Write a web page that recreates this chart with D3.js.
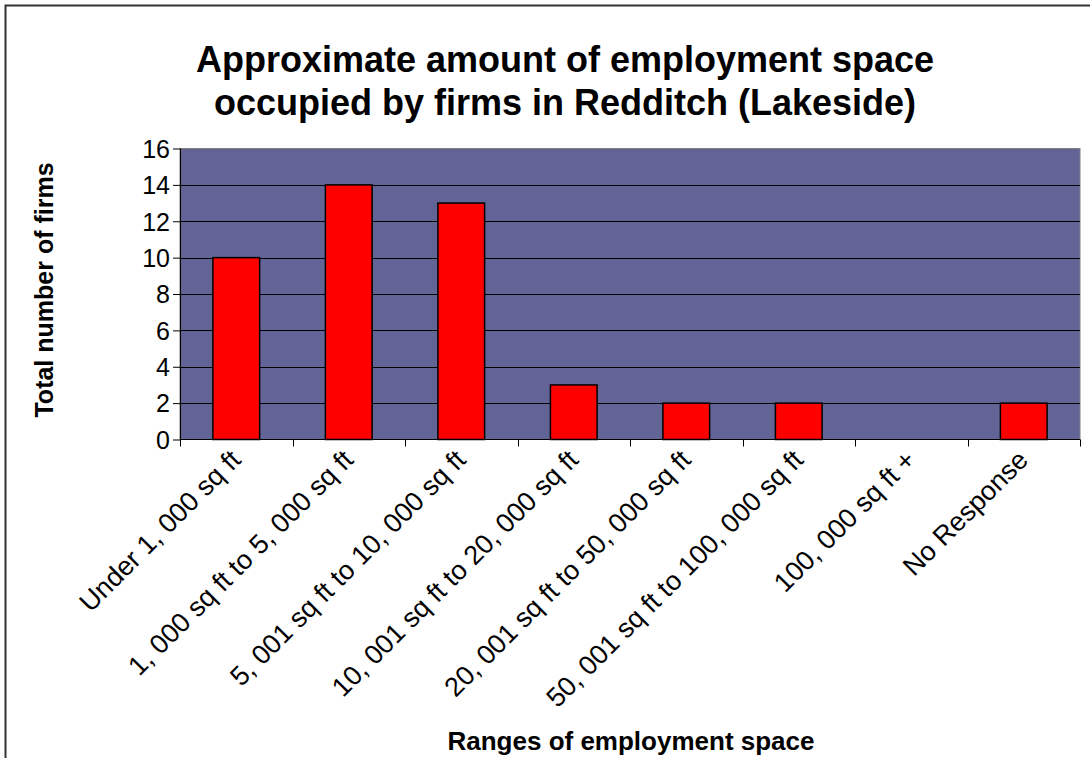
<!DOCTYPE html>
<html>
<head>
<meta charset="utf-8">
<script src="https://cdn.jsdelivr.net/npm/d3@7"></script>
<style>
  html, body { margin: 0; padding: 0; background: #fff; }
  svg { display: block; font-family: Arial, "Liberation Sans", sans-serif; }
</style>
</head>
<body>
<svg id="chart" width="1090" height="758"></svg>
<script>
const titleLines = ["Approximate amount of employment space", "occupied by firms in Redditch (Lakeside)"];
const categories = [
  "Under 1, 000 sq ft",
  "1, 000 sq ft to 5, 000 sq ft",
  "5, 001 sq ft to 10, 000 sq ft",
  "10, 001 sq ft to 20, 000 sq ft",
  "20, 001 sq ft to 50, 000 sq ft",
  "50, 001 sq ft to 100, 000 sq ft",
  "100, 000 sq ft +",
  "No Response"
];
const values = [10, 14, 13, 3, 2, 2, 0, 2];
const yTicks = [0, 2, 4, 6, 8, 10, 12, 14, 16];
const xTitle = "Ranges of employment space";
const yTitle = "Total number of firms";

const svg = d3.select("#chart");
const plot = { left: 180, top: 148.5, right: 1080, bottom: 439.5 };

// chart area border (extends past the viewport right/bottom)
svg.append("rect")
  .attr("x", 5.5).attr("y", 5.5).attr("width", 1200).attr("height", 900)
  .attr("fill", "#fff").attr("stroke", "#333").attr("stroke-width", 2);

const x = d3.scaleBand().domain(categories).range([plot.left, plot.right]).paddingInner(0.585).paddingOuter(0.2925);
const xOuter = d3.scaleBand().domain(categories).range([plot.left, plot.right]);
const y = d3.scaleLinear().domain([0, 16]).range([plot.bottom, plot.top]);

// plot background
svg.append("rect")
  .attr("x", plot.left).attr("y", plot.top)
  .attr("width", plot.right - plot.left).attr("height", plot.bottom - plot.top)
  .attr("fill", "#636496").attr("stroke", "#7f7f7f").attr("stroke-width", 1);

// gridlines
svg.append("g").selectAll("line").data(yTicks.filter(d => d > 0 && d < 16)).join("line")
  .attr("x1", plot.left).attr("x2", plot.right)
  .attr("y1", d => Math.round(y(d)) + 0.5).attr("y2", d => Math.round(y(d)) + 0.5)
  .attr("stroke", "#000").attr("stroke-width", 1);

// bars
svg.append("g").selectAll("rect").data(values).join("rect")
  .attr("x", (d, i) => x(categories[i]))
  .attr("y", d => y(d))
  .attr("width", x.bandwidth())
  .attr("height", d => y(0) - y(d))
  .attr("fill", "#ff0000").attr("stroke", "#000").attr("stroke-width", 1.5)
  .style("display", d => d > 0 ? null : "none");

// y axis
const yAxis = d3.axisLeft(y).tickValues(yTicks).tickSize(7).tickPadding(3).tickFormat(d3.format("d"));
const gy = svg.append("g").attr("transform", `translate(${plot.left},0)`).call(yAxis);
gy.select(".domain").attr("stroke", "#000").attr("d", `M0.5,${plot.top}V${plot.bottom}`);
gy.selectAll(".tick line").attr("stroke", "#000");
gy.selectAll(".tick text").attr("font-size", 25).attr("fill", "#000")
  .attr("font-family", "Arial, 'Liberation Sans', sans-serif").attr("dy", "0.35em");

// x axis (ticks at category boundaries)
const boundaries = categories.map(c => xOuter(c)).concat([plot.right]);
const gx = svg.append("g");
gx.append("line").attr("x1", plot.left).attr("x2", plot.right)
  .attr("y1", plot.bottom).attr("y2", plot.bottom).attr("stroke", "#000");
gx.selectAll("line.t").data(boundaries).join("line").attr("class", "t")
  .attr("x1", d => Math.round(d) + 0.5).attr("x2", d => Math.round(d) + 0.5)
  .attr("y1", plot.bottom).attr("y2", plot.bottom + 7).attr("stroke", "#000");

// category labels rotated -45
gx.selectAll("text").data(categories).join("text")
  .attr("transform", d => `translate(${xOuter(d) + xOuter.bandwidth() / 2 + 6},${plot.bottom + 22}) rotate(-45)`)
  .attr("text-anchor", "end")
  .attr("font-size", 27)
  .attr("fill", "#000")
  .text(d => d);

// title
svg.append("text").attr("x", 565).attr("y", 72).attr("text-anchor", "middle")
  .attr("font-size", 36).attr("font-weight", "bold").text(titleLines[0]);
svg.append("text").attr("x", 565).attr("y", 115).attr("text-anchor", "middle")
  .attr("font-size", 36).attr("font-weight", "bold").text(titleLines[1]);

// axis titles
svg.append("text").attr("x", 631).attr("y", 750).attr("text-anchor", "middle")
  .attr("font-size", 26).attr("font-weight", "bold").text(xTitle);
svg.append("text").attr("transform", `translate(53,290) rotate(-90)`).attr("text-anchor", "middle")
  .attr("font-size", 25).attr("font-weight", "bold").text(yTitle);
</script>
</body>
</html>
